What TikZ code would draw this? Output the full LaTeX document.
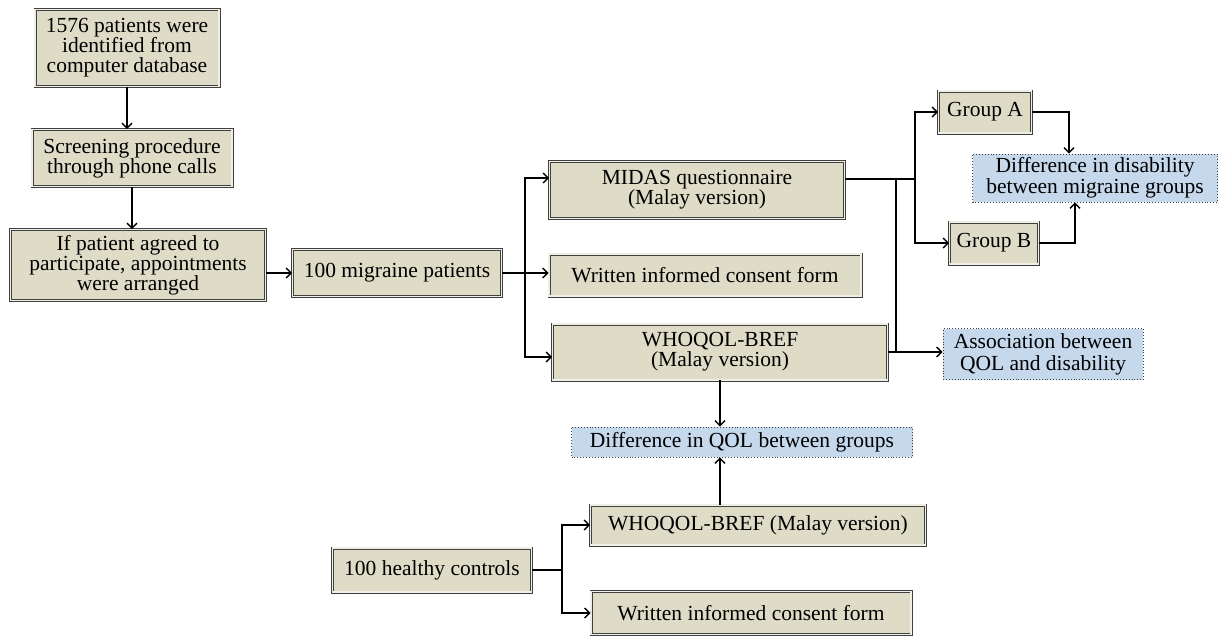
\documentclass[tikz,border=0pt]{standalone}
\usepackage{fontspec}
\setmainfont{Liberation Serif}
\usepackage{tikz}
\usetikzlibrary{arrows.meta, calc, positioning}
\definecolor{boxfill}{RGB}{222,219,199}
\definecolor{notefill}{RGB}{197,216,236}
\tikzset{
    boxnode/.style = {draw=black!75, double=white!55!boxfill, double distance=1.6pt, line width=0.7pt,
      fill=boxfill, rectangle, inner sep=0pt, node distance=0em, font=\fontsize{21.5}{20}\selectfont},
    notenode/.style = {draw=black!75, dotted, line width=0.9pt, fill=notefill, rectangle,
      inner sep=0pt, node distance=0em, font=\fontsize{21.5}{18}\selectfont},
    connect/.style = {black, line width=1.4pt, ->},
    every text node part/.style={align=center}
}

\begin{document}
\begin{tikzpicture}[x=1pt, y=-1pt, >={Straight Barb[length=5pt, width=10pt]}]
\useasboundingbox (0,0) rectangle (1218,637);

% recruitment of the patients
\node [boxnode, name=Src, minimum width=184pt, minimum height=77pt] at (127,48)
  {1576 patients were\\identified from\\computer database};
\node [boxnode, name=Screen, below of=Src, xshift=5pt, yshift=-110pt, minimum width=200pt, minimum height=57pt]
  {Screening procedure\\through phone calls};
\node [boxnode, name=Agree, below of=Screen, xshift=6pt, yshift=-107pt, minimum width=255pt, minimum height=71pt]
  {If patient agreed to\\participate, appointments\\were arranged};
\node [boxnode, name=Migraine, right of=Agree, xshift=259pt, yshift=-8pt, minimum width=209pt, minimum height=47pt]
  {100 migraine patients};

% what the patients fill in
\node [boxnode, name=Midas, right of=Migraine, xshift=300pt, yshift=83pt, minimum width=295pt, minimum height=57pt]
  {MIDAS questionnaire\\(Malay version)};
\node [boxnode, name=ConsentA, right of=Migraine, xshift=308pt, yshift=-2pt, minimum width=312pt, minimum height=42pt]
  {Written informed consent form};
\node [boxnode, name=WhoA, right of=Migraine, xshift=323pt, yshift=-79pt, minimum width=335pt, minimum height=56pt]
  {WHOQOL-BREF\\(Malay version)};

\node [boxnode, name=GrpA, right of=Midas, xshift=288pt, yshift=78pt, minimum width=93pt, minimum height=42pt] {Group A};
\node [boxnode, name=GrpB, right of=Midas, xshift=297pt, yshift=-53pt, minimum width=89pt, minimum height=42pt] {Group B};

% outcomes
\node [notenode, name=DiffDis, right of=Midas, xshift=398pt, yshift=12pt, minimum width=245pt, minimum height=48pt]
  {Difference in disability\\between migraine groups};
\node [notenode, name=Assoc, right of=WhoA, xshift=323pt, yshift=-2pt, minimum width=200pt, minimum height=51pt,
  font=\fontsize{21.5}{22}\selectfont]
  {Association between\\QOL and disability};
\node [notenode, name=DiffQOL, below of=WhoA, xshift=22pt, yshift=-90pt, minimum width=341pt, minimum height=30pt]
  {Difference in QOL between groups};

% controls
\node [boxnode, name=WhoB, below of=DiffQOL, xshift=16pt, yshift=-83pt, minimum width=335pt, minimum height=40pt]
  {WHOQOL-BREF (Malay version)};
\node [boxnode, name=Healthy, left of=WhoB, xshift=-326pt, yshift=-45pt, minimum width=199pt, minimum height=44pt]
  {100 healthy controls};
\node [boxnode, name=ConsentB, below of=WhoB, xshift=-7pt, yshift=-88pt, minimum width=320pt, minimum height=43pt]
  {Written informed consent form};

\coordinate (jm) at ($(Migraine.east)+(23,0)$);
\coordinate (jg) at ($(Midas.east)+(70,-11)$);
\coordinate (jq) at ($(Midas.east)+(51,-11)$);
\coordinate (jh) at ($(Healthy.east)+(30,0)$);

\draw[connect] (Src) -- (Src |- Screen.north);
\draw[connect] (Screen) -- (Screen |- Agree.north);
\draw[connect] (Agree.east |- Migraine) -- (Migraine);

\draw[line width=1.4pt] (Migraine.east) -- (jm);
\draw[connect] (jm) |- ([yshift=12pt]Midas.west);
\draw[connect] (jm) -- (jm -| ConsentA.west);
\draw[connect] (jm) |- ([yshift=-5pt]WhoA.west);

\draw[line width=1.4pt] ([yshift=11pt]Midas.east) -- (jg);
\draw[connect] (jg) |- (GrpA);
\draw[connect] (jg) |- (GrpB);
\draw[line width=1.4pt] (jq) -- (jq |- WhoA.east);
\draw[connect] (WhoA.east) -- (WhoA.east -| Assoc.west);

\draw[connect] (GrpA.east) -| ([xshift=-26pt]DiffDis.north);
\draw[connect] (GrpB.east) -| ([xshift=-20pt]DiffDis.south);

\draw[connect] (WhoA.south) -- (WhoA.south |- DiffQOL.north);
\draw[connect] (WhoB.north -| WhoA.south) -- (WhoA.south |- DiffQOL.south);

\draw[line width=1.4pt] (Healthy) -- (jh);
\draw[connect] (jh) |- (WhoB);
\draw[connect] (jh) |- (ConsentB);

\end{tikzpicture}
\end{document}
